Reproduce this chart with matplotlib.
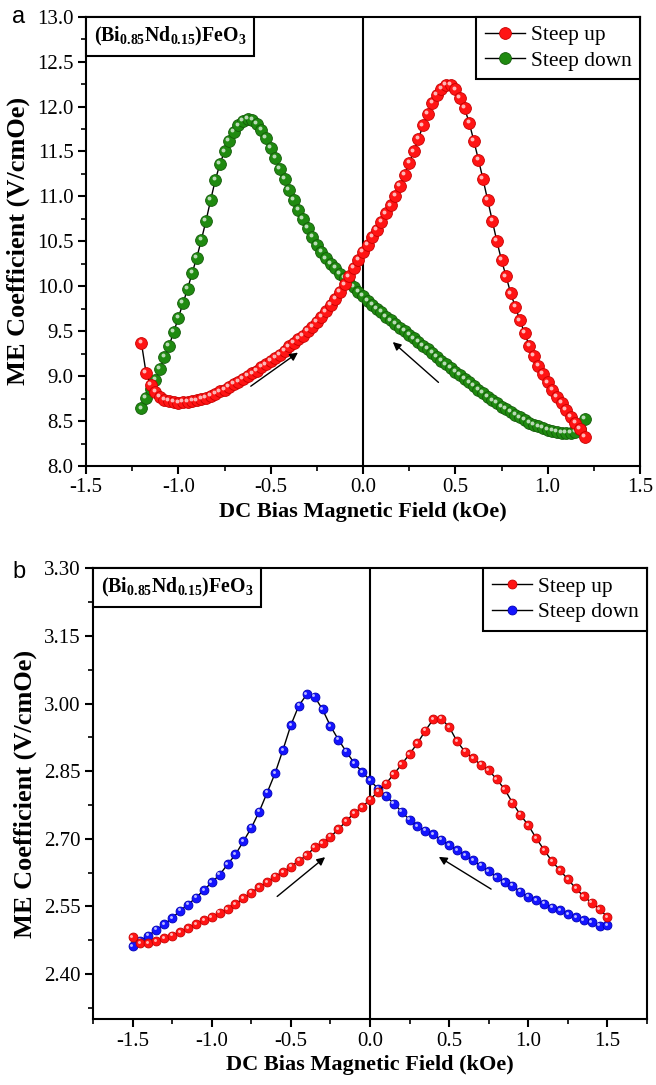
import matplotlib
matplotlib.use('Agg')
import matplotlib.pyplot as plt
from matplotlib.ticker import MultipleLocator, FormatStrFormatter
from matplotlib.transforms import offset_copy
from matplotlib.offsetbox import AnchoredText

plt.rcParams['font.family'] = ['Liberation Serif', 'DejaVu Serif']
plt.rcParams['mathtext.fontset'] = 'custom'
plt.rcParams['mathtext.rm'] = 'Liberation Serif'
plt.rcParams['mathtext.bf'] = 'Liberation Serif:bold'
plt.rcParams['axes.unicode_minus'] = False

# ---------------- Panel a data ----------------
field_a = [-1.200, -1.175, -1.150, -1.125, -1.100, -1.075, -1.050, -1.025, -1.000,
           -0.975, -0.950, -0.925, -0.900, -0.875, -0.850, -0.825, -0.800, -0.775,
           -0.750, -0.725, -0.700, -0.675, -0.650, -0.625, -0.600, -0.575, -0.550,
           -0.525, -0.500, -0.475, -0.450, -0.425, -0.400, -0.375, -0.350, -0.325,
           -0.300, -0.275, -0.250, -0.225, -0.200, -0.175, -0.150, -0.125, -0.100,
           -0.075, -0.050, -0.025, 0.000, 0.025, 0.050, 0.075, 0.100, 0.125, 0.150,
           0.175, 0.200, 0.225, 0.250, 0.275, 0.300, 0.325, 0.350, 0.375, 0.400,
           0.425, 0.450, 0.475, 0.500, 0.525, 0.550, 0.575, 0.600, 0.625, 0.650,
           0.675, 0.700, 0.725, 0.750, 0.775, 0.800, 0.825, 0.850, 0.875, 0.900,
           0.925, 0.950, 0.975, 1.000, 1.025, 1.050, 1.075, 1.100, 1.125, 1.150,
           1.175, 1.200]

up_a = [9.37, 9.04, 8.90, 8.82, 8.77, 8.74, 8.72, 8.71, 8.70,
        8.71, 8.71, 8.72, 8.73, 8.75, 8.76, 8.78, 8.80, 8.83,
        8.85, 8.88, 8.91, 8.94, 8.97, 9.00, 9.03, 9.06, 9.10,
        9.13, 9.17, 9.20, 9.24, 9.28, 9.33, 9.37, 9.41, 9.45,
        9.50, 9.55, 9.60, 9.66, 9.72, 9.79, 9.86, 9.94, 10.02,
        10.11, 10.20, 10.29, 10.38, 10.46, 10.55, 10.63, 10.72, 10.81, 10.90,
        11.01, 11.12, 11.24, 11.37, 11.50, 11.64, 11.79, 11.92, 12.04, 12.13,
        12.20, 12.24, 12.24, 12.19, 12.10, 11.98, 11.82, 11.62, 11.41, 11.19,
        10.96, 10.73, 10.50, 10.29, 10.11, 9.92, 9.77, 9.62, 9.48, 9.34,
        9.22, 9.11, 9.02, 8.93, 8.85, 8.77, 8.70, 8.62, 8.55, 8.48,
        8.41, 8.32]

down_a = [8.64, 8.76, 8.86, 8.96, 9.08, 9.21, 9.34, 9.49, 9.65,
          9.81, 9.97, 10.15, 10.32, 10.52, 10.73, 10.96, 11.18, 11.36,
          11.50, 11.62, 11.72, 11.79, 11.84, 11.86, 11.85, 11.81, 11.74,
          11.65, 11.54, 11.43, 11.31, 11.19, 11.07, 10.96, 10.85, 10.75,
          10.65, 10.55, 10.46, 10.38, 10.31, 10.25, 10.20, 10.14, 10.09,
          10.04, 9.99, 9.94, 9.89, 9.84, 9.79, 9.75, 9.71, 9.66, 9.62,
          9.58, 9.54, 9.50, 9.46, 9.42, 9.38, 9.34, 9.30, 9.26, 9.21,
          9.17, 9.13, 9.09, 9.05, 9.01, 8.97, 8.93, 8.89, 8.85, 8.81,
          8.77, 8.73, 8.70, 8.66, 8.63, 8.60, 8.57, 8.54, 8.51, 8.48,
          8.46, 8.44, 8.42, 8.40, 8.39, 8.38, 8.37, 8.37, 8.37, 8.38,
          8.41, 8.52]

# ---------------- Panel b data ----------------
field_b = [-1.50, -1.45, -1.40, -1.35, -1.30, -1.25, -1.20, -1.15, -1.10, -1.05,
           -1.00, -0.95, -0.90, -0.85, -0.80, -0.75, -0.70, -0.65, -0.60, -0.55,
           -0.50, -0.45, -0.40, -0.35, -0.30, -0.25, -0.20, -0.15, -0.10, -0.05,
           0.00, 0.05, 0.10, 0.15, 0.20, 0.25, 0.30, 0.35, 0.40, 0.45,
           0.50, 0.55, 0.60, 0.65, 0.70, 0.75, 0.80, 0.85, 0.90, 0.95,
           1.00, 1.05, 1.10, 1.15, 1.20, 1.25, 1.30, 1.35, 1.40, 1.45, 1.50]

up_b = [2.482, 2.468, 2.468, 2.472, 2.479, 2.485, 2.493, 2.501, 2.510, 2.519,
        2.526, 2.536, 2.543, 2.555, 2.568, 2.580, 2.593, 2.604, 2.616, 2.626,
        2.638, 2.651, 2.663, 2.681, 2.690, 2.704, 2.721, 2.739, 2.757, 2.770,
        2.787, 2.804, 2.822, 2.843, 2.865, 2.888, 2.912, 2.940, 2.965, 2.966,
        2.948, 2.916, 2.893, 2.879, 2.864, 2.852, 2.832, 2.810, 2.780, 2.753,
        2.730, 2.701, 2.675, 2.650, 2.630, 2.610, 2.590, 2.572, 2.558, 2.544, 2.526]

down_b = [2.461, 2.474, 2.485, 2.498, 2.510, 2.524, 2.540, 2.554, 2.569, 2.586,
          2.603, 2.620, 2.643, 2.665, 2.694, 2.724, 2.760, 2.802, 2.845, 2.897,
          2.952, 2.995, 3.020, 3.015, 2.987, 2.950, 2.920, 2.893, 2.868, 2.848,
          2.830, 2.811, 2.795, 2.778, 2.760, 2.742, 2.728, 2.718, 2.710, 2.698,
          2.686, 2.675, 2.663, 2.652, 2.640, 2.628, 2.614, 2.603, 2.596, 2.582,
          2.571, 2.563, 2.556, 2.547, 2.541, 2.533, 2.526, 2.519, 2.515, 2.507, 2.508]

# arrows (tail -> head) in data coordinates
arrows_a = [((-0.62, 8.87), (-0.34, 9.28)), ((0.42, 8.91), (0.15, 9.40))]
arrows_b = [((-0.60, 2.568), (-0.27, 2.663)), ((0.78, 2.585), (0.42, 2.663))]

series_labels = ['Steep up', 'Steep down']
sample_name = r'$\mathbf{(Bi_{0.85}Nd_{0.15})FeO_3}$'

fig = plt.figure(figsize=(6.56, 10.85), dpi=100)
axa = fig.add_axes([86 / 656, 1 - 466 / 1085, (640 - 86) / 656, (466 - 16.7) / 1085])
axb = fig.add_axes([93 / 656, 1 - 1019 / 1085, (647 - 93) / 656, (1019 - 568.3) / 1085])


def balls(ax, x, y, face, edge, label, ms):
    line, = ax.plot(x, y, '-', color='black', lw=1.0, marker='o', ms=ms,
                    mfc=face, mec=edge, mew=0.6, label=label, zorder=3)
    tr = offset_copy(ax.transData, fig=fig, x=-ms * 0.14, y=ms * 0.16, units='points')
    ax.plot(x, y, ls='none', marker='o', ms=ms * 0.33, mfc='white', mec='none',
            alpha=0.7, transform=tr, zorder=3)
    return line


def style(ax, xlim, ylim, xmaj, xmin, ymaj, ymin, yfmt):
    ax.set_xlim(*xlim)
    ax.set_ylim(*ylim)
    ax.xaxis.set_major_locator(MultipleLocator(xmaj))
    ax.xaxis.set_minor_locator(MultipleLocator(xmin))
    ax.yaxis.set_major_locator(MultipleLocator(ymaj))
    ax.yaxis.set_minor_locator(MultipleLocator(ymin))
    ax.xaxis.set_major_formatter(FormatStrFormatter('%.1f'))
    ax.yaxis.set_major_formatter(FormatStrFormatter(yfmt))
    ax.tick_params(which='major', direction='out', length=6, width=1.5, labelsize=15,
                   top=False, right=False, pad=3)
    ax.tick_params(which='minor', direction='out', length=3.5, width=1.2,
                   top=False, right=False)
    for s in ax.spines.values():
        s.set_linewidth(1.5)
    ax.axvline(0, color='black', lw=1.5, zorder=2)
    ax.set_xlabel('DC Bias Magnetic Field (kOe)', fontsize=16, fontweight='bold', labelpad=3)
    ax.set_ylabel('ME Coefficient (V/cmOe)', fontsize=19, fontweight='bold', labelpad=5)
    at = AnchoredText(sample_name, loc='upper left', borderpad=0, pad=0.4,
                      prop=dict(size=14.3), frameon=True)
    at.patch.set_boxstyle('square,pad=0')
    at.patch.set_linewidth(1.5)
    ax.add_artist(at)
    h, l = ax.get_legend_handles_labels()
    leg = ax.legend(h[::-1], l[::-1], loc='upper right', borderaxespad=0, frameon=True,
                    fancybox=False, edgecolor='black', framealpha=1, fontsize=15.4,
                    handlelength=1.9, borderpad=0.4, labelspacing=0.25, handletextpad=0.25)
    leg.get_frame().set_linewidth(1.5)


# Panel a
balls(axa, field_a, down_a, '#1f8a10', '#145c0a', series_labels[1], 8.5)
balls(axa, field_a, up_a, '#ff1414', '#c80000', series_labels[0], 8.5)
for tail, head in arrows_a:
    axa.annotate('', xy=head, xytext=tail,
                 arrowprops=dict(arrowstyle='-|>', color='black', lw=1.0, mutation_scale=12))
style(axa, (-1.5, 1.5), (8.0, 13.0), 0.5, 0.25, 0.5, 0.25, '%.1f')

# Panel b
balls(axb, field_b, down_b, '#1414ff', '#0000b4', series_labels[1], 6.4)
balls(axb, field_b, up_b, '#ff1414', '#c80000', series_labels[0], 6.4)
for tail, head in arrows_b:
    axb.annotate('', xy=head, xytext=tail,
                 arrowprops=dict(arrowstyle='-|>', color='black', lw=1.0, mutation_scale=12))
style(axb, (-1.75, 1.75), (2.30, 3.30), 0.5, 0.25, 0.15, 0.075, '%.2f')

fig.text(12 / 656, 1 - 17 / 1085, 'a', family='Liberation Sans', fontsize=17, va='center', ha='left')
fig.text(12 / 656, 1 - 572 / 1085, 'b', family='Liberation Sans', fontsize=17, va='center', ha='left')

fig.savefig('out.png', dpi=100)
